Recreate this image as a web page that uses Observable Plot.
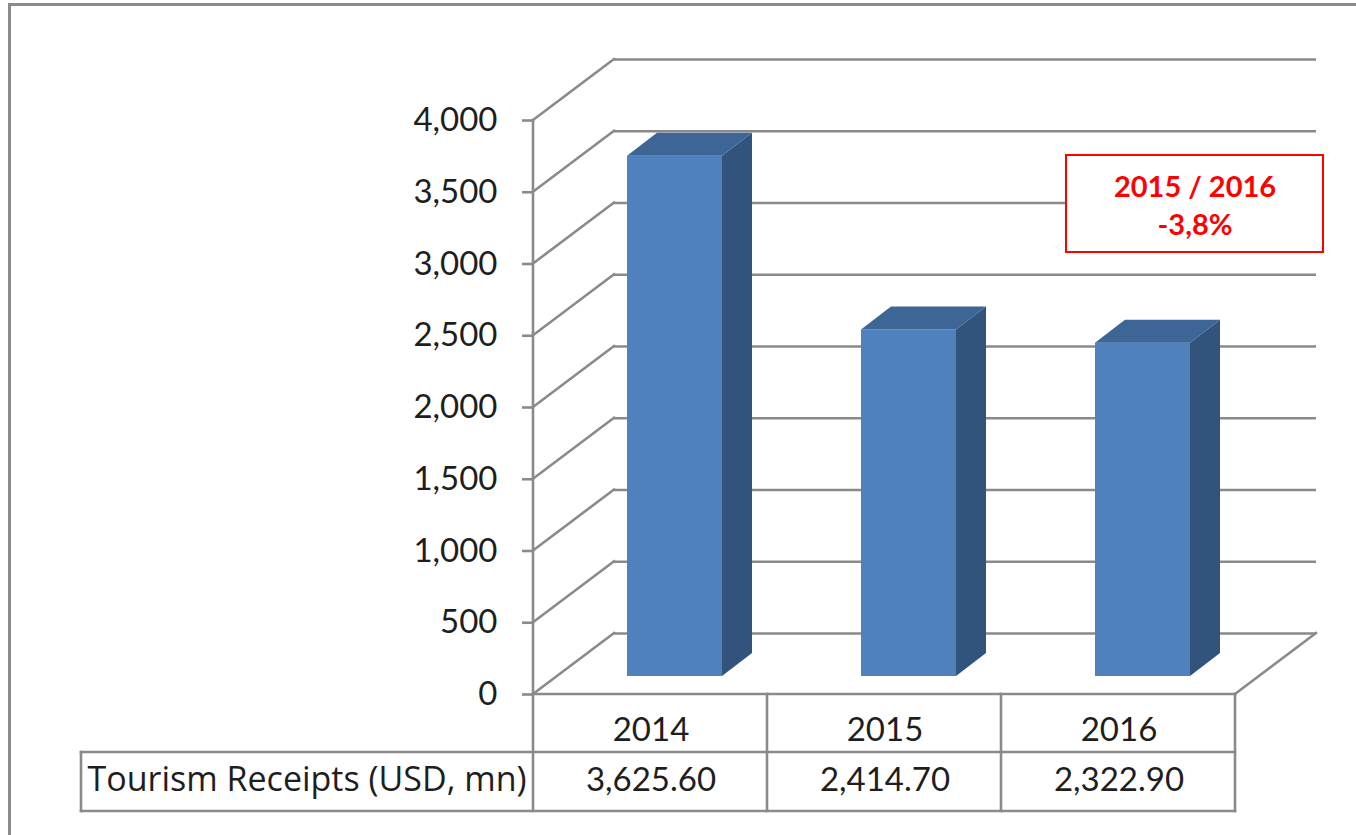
<!DOCTYPE html>
<html>
<head>
<meta charset="utf-8">
<script src="https://cdn.jsdelivr.net/npm/d3@7"></script>
<script src="https://cdn.jsdelivr.net/npm/@observablehq/plot@0.6"></script>
<style>
  html, body { margin: 0; padding: 0; background: #fff; }
  #wrap { position: relative; width: 1356px; height: 835px; overflow: hidden; }
  #border { position: absolute; left: 8px; top: 3px; right: -10px; bottom: -10px;
            border-left: 3px solid #8a8a8a; border-top: 3px solid #8a8a8a; pointer-events: none; }
</style>
</head>
<body>
<div id="wrap"><div id="border"></div></div>
<script>
// ---- data ----
const years = ["2014", "2015", "2016"];
const receipts = [3625.6, 2414.7, 2322.9];
const receiptLabels = ["3,625.60", "2,414.70", "2,322.90"];
const yTicks = [0, 500, 1000, 1500, 2000, 2500, 3000, 3500, 4000];
const rowLabel = "Tourism Receipts (USD, mn)";
const noteText = ["2015 / 2016", "-3,8%"];

const table = years.map((year, i) => ({year, value: receipts[i], label: receiptLabels[i]}));

// ---- style / layout constants ----
const GRID = "#8a8a8a", GRID_W = 2.6;
const TEXT = "#1e1e1e";
const FRONT = "#4f81bd", TOP = "#3d6596", SIDE = "#31537c";
const DEPTH_DX = 81, DEPTH_DY = -61;       // wall depth
const BAR_DX = 24, BAR_DY = -18;           // bar front plane offset
const BAR_DEP_DX = 30, BAR_DEP_DY = -23;   // bar depth
const HEADER_H = 58, ROW_H = 59, LABEL_LEFT = 81;
const NOTE_DX = -40.5, NOTE_DY = 83.5, NOTE_W = 257, NOTE_H = 97;
const PAD_INNER = 1 - 95 / 234;

function line(g, x1, y1, x2, y2) {
  g.append("line").attr("x1", x1).attr("y1", y1).attr("x2", x2).attr("y2", y2)
    .attr("stroke", GRID).attr("stroke-width", GRID_W).attr("stroke-linecap", "square");
}

// walls, floor, axis line, table grid
function frameLines(index, scales, values, dim) {
  const g = d3.create("svg:g");
  const ml = dim.marginLeft, mr = dim.width - dim.marginRight;
  const y0 = scales.y(0);
  for (const t of yTicks) line(g, ml, scales.y(t), ml + DEPTH_DX, scales.y(t) + DEPTH_DY);
  line(g, mr, y0, mr + DEPTH_DX, y0 + DEPTH_DY);
  line(g, LABEL_LEFT, y0 + HEADER_H, mr, y0 + HEADER_H);
  line(g, ml, y0, mr, y0);
  line(g, ml, scales.y(yTicks[yTicks.length - 1]), ml, y0 + HEADER_H + ROW_H);
  const step = (mr - ml) / years.length;
  for (let i = 1; i <= years.length; i++) line(g, ml + i * step, y0, ml + i * step, y0 + HEADER_H + ROW_H);
  line(g, LABEL_LEFT, y0 + HEADER_H, LABEL_LEFT, y0 + HEADER_H + ROW_H);
  line(g, LABEL_LEFT, y0 + HEADER_H + ROW_H, mr, y0 + HEADER_H + ROW_H);
  return g.node();
}

function barFaces(index, scales, values, dim) {
  const g = d3.create("svg:g");
  const ml = dim.marginLeft, mr = dim.width - dim.marginRight;
  const bw = typeof scales.x.bandwidth === "function" ? scales.x.bandwidth()
    : (mr - ml) / years.length * (1 - PAD_INNER);
  for (const d of table) {
    const x0 = scales.x(d.year) + BAR_DX, x1 = x0 + bw;
    const yb = scales.y(0) + BAR_DY, yt = scales.y(d.value) + BAR_DY;
    g.append("path").attr("fill", SIDE)
      .attr("d", `M${x1},${yt}L${x1 + BAR_DEP_DX},${yt + BAR_DEP_DY}L${x1 + BAR_DEP_DX},${yb + BAR_DEP_DY}L${x1},${yb}Z`);
    g.append("path").attr("fill", TOP)
      .attr("d", `M${x0},${yt}L${x0 + BAR_DEP_DX},${yt + BAR_DEP_DY}L${x1 + BAR_DEP_DX},${yt + BAR_DEP_DY}L${x1},${yt}Z`);
  }
  return g.node();
}

function noteBox(index, scales, values, dim) {
  const cx = dim.width - dim.marginRight + NOTE_DX, cy = dim.marginTop + NOTE_DY;
  const g = d3.create("svg:g");
  g.append("rect").attr("x", cx - NOTE_W / 2).attr("y", cy - NOTE_H / 2)
    .attr("width", NOTE_W).attr("height", NOTE_H)
    .attr("fill", "white").attr("stroke", "#ff0000").attr("stroke-width", 2);
  return g.node();
}

const chart = Plot.plot({
  width: 1356,
  height: 835,
  marginLeft: 533,
  marginRight: 121,
  marginTop: 120,
  marginBottom: 141,
  style: {fontFamily: "Lato, 'Noto Sans', sans-serif", background: "white", color: TEXT},
  x: {type: "band", domain: years, paddingInner: PAD_INNER, paddingOuter: PAD_INNER / 2, axis: null},
  y: {domain: [0, 4000], axis: null},
  marks: [
    Plot.ruleY(yTicks, {dx: DEPTH_DX, dy: DEPTH_DY, stroke: GRID, strokeWidth: GRID_W}),
    frameLines,
    Plot.axisY(yTicks, {tickSize: 11, tickPadding: 25, tickFormat: d3.format(","), stroke: GRID,
      strokeWidth: GRID_W, fill: TEXT, fontSize: 33, label: null}),
    Plot.barY(table, {x: "year", y: "value", dx: BAR_DX, dy: BAR_DY, fill: FRONT}),
    barFaces,
    noteBox,
    Plot.text([noteText.join("\n")], {text: d => d, frameAnchor: "top-right", lineAnchor: "middle",
      dx: NOTE_DX, dy: NOTE_DY, textAnchor: "middle", fill: "#ff0000", fontSize: 29, fontWeight: "bold",
      lineHeight: 1.32}),
    Plot.text(table, {x: "year", text: "year", frameAnchor: "bottom", lineAnchor: "middle", dy: 35.5,
      fontSize: 33, fill: TEXT}),
    Plot.text(table, {x: "year", text: "label", frameAnchor: "bottom", lineAnchor: "middle", dy: 86,
      fontSize: 33, fill: TEXT}),
    Plot.text([rowLabel], {text: d => d, frameAnchor: "bottom-left", lineAnchor: "middle", textAnchor: "start",
      dx: -446, dy: 86, fontSize: 34, fontFamily: "'Open Sans', Lato, sans-serif", fill: TEXT})
  ]
});
document.getElementById("wrap").insertBefore(chart, document.getElementById("border"));
</script>
</body>
</html>
